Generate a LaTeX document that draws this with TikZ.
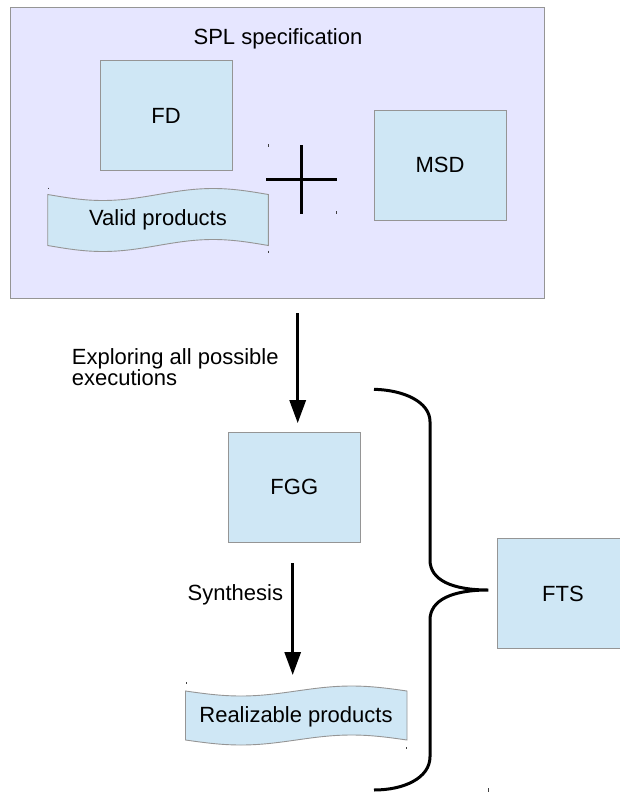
\documentclass[tikz,border=0pt]{standalone}
\usepackage{fontspec}
\setmainfont{Liberation Sans}
\usetikzlibrary{arrows.meta}
\definecolor{boxfill}{HTML}{CFE7F5}
\definecolor{boxline}{HTML}{959595}
\definecolor{specfill}{HTML}{E6E6FF}
\begin{document}
\begin{tikzpicture}[x=1pt,y=-1pt,
  every node/.style={font=\fontsize{22}{21.7}\selectfont, inner sep=0pt},
  block/.style={draw=boxline, fill=boxfill, line width=0.9pt,
                minimum width=132pt, minimum height=110pt},
  tape/.style={draw=boxline, fill=boxfill, line width=0.9pt},
  flow/.style={-{Triangle[length=23pt,width=16pt]}, line width=3pt},
  heavy/.style={line width=3pt},
  tick/.style={line width=0.7pt, draw=black!75}]
\useasboundingbox (0,0) rectangle (619,792);

% SPL specification frame
\node[draw=boxline, fill=specfill, line width=0.9pt,
      minimum width=534.5pt, minimum height=291pt] (spl) at (277.25,152.5) {};
\node (spltitle) at (278,39) {SPL specification};

% feature diagram and message sequence diagram
\node[block] (fd) at (166,115.5) {FD};
\node[block] (msd) at (440,165) {MSD};

% valid products (punched tape)
\path[tape] (47.7,194.5) sin (102.85,200.5) cos (158,194.5) sin (213.15,188.5) cos (268.3,194.5)
  -- (268.3,245.5) sin (213.15,239.5) cos (158,245.5) sin (102.85,251.5) cos (47.7,245.5) -- cycle;
\node (valid) at (158,220) {Valid products};

% plus sign
\coordinate (plus) at (301,179);
\draw[heavy] ([yshift=-34.5pt]plus) -- ([yshift=34.5pt]plus);
\draw[heavy] ([xshift=-35pt]plus) -- ([xshift=35.5pt]plus);
\draw[tick] (268.3,144) -- (268.3,147);
\draw[tick] (336,211) -- (336,213.5);
\draw[tick] (48.3,187.5) -- (48.3,189);
\draw[tick] (268.3,250.5) -- (268.3,252.5);

% exploration step
\node[block] (fgg) at (294.3,487.3) {FGG};
\coordinate (a1) at (297.7,313);
\draw[flow, shorten >=8.7pt] (a1) -- (a1 |- fgg.north);
\node[anchor=west, align=left] (explore) at (71.7,367) {Exploring all possible\\executions};

% synthesis step
\path[tape] (185.5,691) sin (240.9,696) cos (296.25,691) sin (351.6,686) cos (407,691)
  -- (407,740) sin (351.6,735) cos (296.25,740) sin (240.9,745) cos (185.5,740) -- cycle;
\node (real) at (296,717) {Realizable products};
\coordinate (realtop) at (296,691);
\coordinate (a2) at (292.7,563);
\draw[flow, shorten >=16pt] (a2) -- (a2 |- realtop);
\node[anchor=east] (synth) at (283.3,595) {Synthesis};
\draw[tick] (186,682) -- (186,684);
\draw[tick] (406.7,747) -- (406.7,749);

% brace gathering FGG and realizable products into the FTS
\node[block] (fts) at (563,593.5) {FTS};
\coordinate (btop) at (374,389.3);
\coordinate (btip) at (488.3,590);
\coordinate (bbot) at (374,790);
\draw[heavy] (btop) .. controls (404,390) and (430,402) .. (430,421.7) -- (430,560)
  .. controls (430,580) and (452,590) .. (btip)
  .. controls (452,590) and (430,600) .. (430,620) -- (430,756.7)
  .. controls (430,778) and (404,790) .. (bbot);
\draw[tick] (488.3,788) -- (488.3,792);
\end{tikzpicture}
\end{document}
